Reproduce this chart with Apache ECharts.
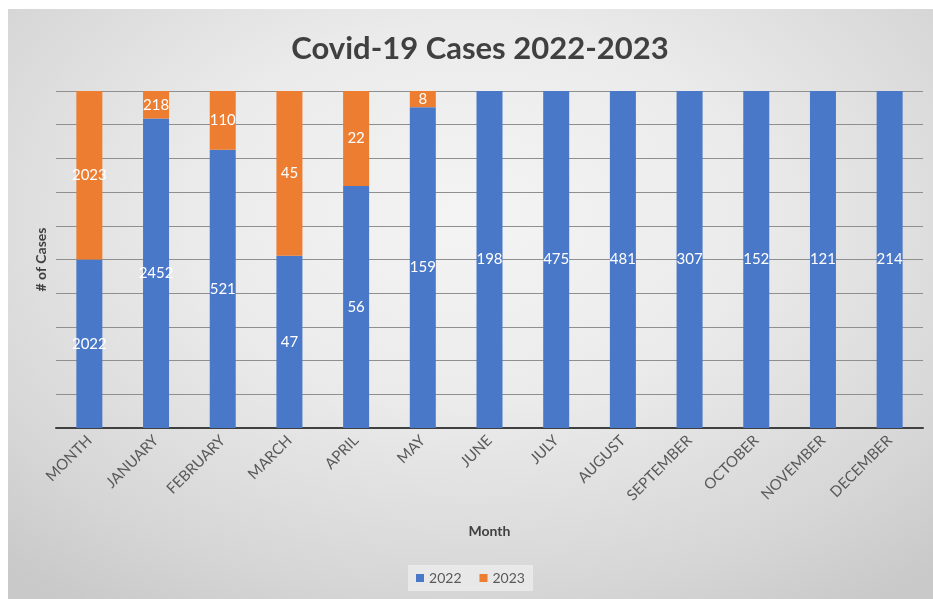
<!DOCTYPE html>
<html><head><meta charset="utf-8">
<script src="https://cdn.jsdelivr.net/npm/echarts@6/dist/echarts.min.js"></script>
<style>
html,body{margin:0;padding:0;background:#fff;width:933px;height:599px;overflow:hidden}
#wrap{position:absolute;left:8px;top:9px;width:925px;height:590px;
background:radial-gradient(ellipse 75% 80% at 50% 35%, #f4f4f4 0%, #ebebeb 40%, #d6d6d6 80%, #c9c9c9 100%);}
#c{width:925px;height:590px}
</style></head>
<body><div id="wrap"><div id="c"></div></div>
<script>
const categories = ['MONTH','JANUARY','FEBRUARY','MARCH','APRIL','MAY','JUNE','JULY','AUGUST','SEPTEMBER','OCTOBER','NOVEMBER','DECEMBER'];
const cases2022 = [2022, 2452, 521, 47, 56, 159, 198, 475, 481, 307, 152, 121, 214];
const cases2023 = [2023, 218, 110, 45, 22, 8, null, null, null, null, null, null, null];
const yTicks = [0,10,20,30,40,50,60,70,80,90,100];

const totals = categories.map((_, i) => (cases2022[i] || 0) + (cases2023[i] || 0));
const pct = (arr) => arr.map((v, i) => v == null ? null : { value: v / totals[i] * 100, raw: v });

const font = 'Lato, "Open Sans", sans-serif';
const chart = echarts.init(document.getElementById('c'), null, {renderer:'canvas'});
const lbl = {
  show: true, position: 'inside', color: '#ffffff', fontFamily: font, fontSize: 15,
  formatter: p => p.data && p.data.raw != null ? String(p.data.raw) : ''
};
chart.setOption({
  backgroundColor: 'transparent',
  animation: false,
  title: {
    text: 'Covid-19 Cases 2022-2023', left: 467, top: 19, textAlign: 'center',
    textStyle: { fontFamily: font, fontSize: 31, fontWeight: 'bold', color: '#404040' }
  },
  legend: {
    bottom: 8, left: 'center', itemWidth: 8, itemHeight: 8, itemGap: 18,
    icon: 'rect',
    backgroundColor: 'rgba(240,240,240,0.7)', padding: [6, 8],
    textStyle: { fontFamily: font, fontSize: 14, color: '#595959' },
    data: ['2022', '2023']
  },
  grid: { left: 48, right: 10, top: 82, bottom: 171 },
  xAxis: {
    type: 'category', data: categories,
    name: 'Month', nameLocation: 'middle', nameGap: 96,
    nameTextStyle: { fontFamily: font, fontSize: 14, fontWeight: 'bold', color: '#404040' },
    axisLine: { lineStyle: { color: '#404040', width: 2 } },
    axisTick: { show: false },
    axisLabel: { rotate: 45, interval: 0, fontFamily: font, fontSize: 15, color: '#595959', margin: 10 }
  },
  yAxis: {
    type: 'value', min: 0, max: 100, interval: 10,
    name: '# of Cases', nameLocation: 'middle', nameGap: 8, nameRotate: 90,
    nameTextStyle: { fontFamily: font, fontSize: 14, fontWeight: 'bold', color: '#404040' },
    axisLabel: { show: false },
    axisLine: { show: false }, axisTick: { show: false },
    splitLine: { lineStyle: { color: '#8f8f8f', width: 1 } }
  },
  series: [
    { name: '2022', type: 'bar', stack: 'total', barWidth: 26, data: pct(cases2022),
      itemStyle: { color: '#4a78c8' }, label: lbl },
    { name: '2023', type: 'bar', stack: 'total', barWidth: 26, data: pct(cases2023),
      itemStyle: { color: '#ed7d31' }, label: lbl }
  ]
});
</script></body></html>
